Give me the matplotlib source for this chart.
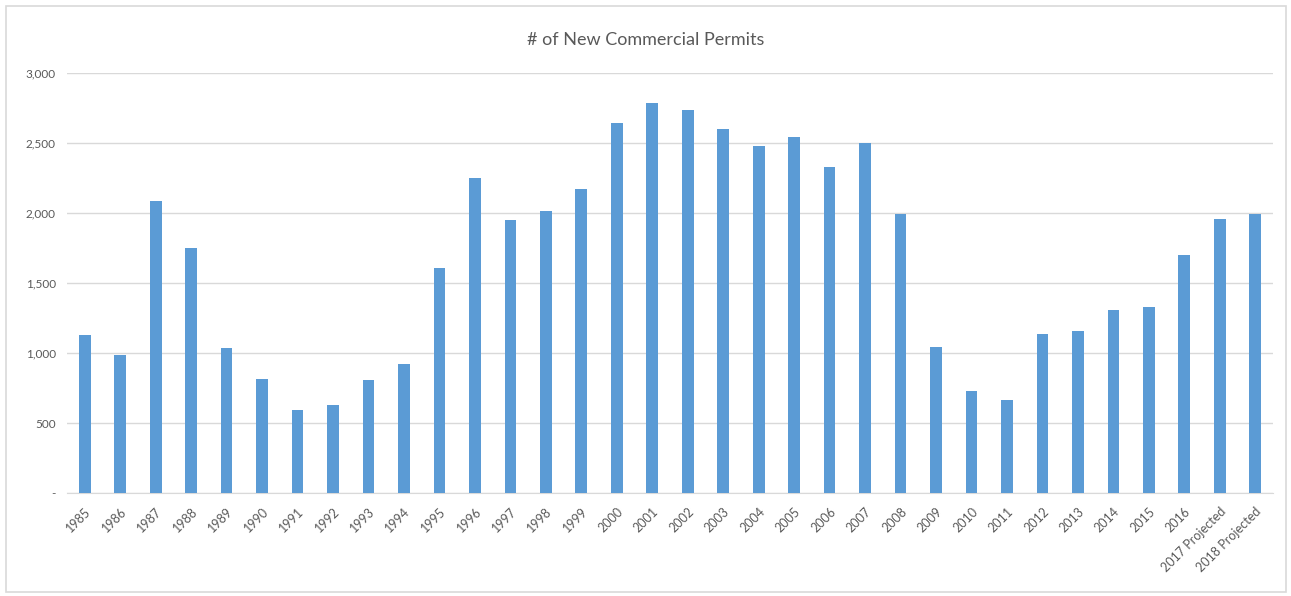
import matplotlib
matplotlib.use("Agg")
import matplotlib.pyplot as plt
from matplotlib.patches import Rectangle
from matplotlib.ticker import FuncFormatter

years = [str(y) for y in range(1985, 2017)] + ["2017 Projected", "2018 Projected"]
permits = [
    1127, 989, 2084, 1748, 1033, 816, 596, 629, 805, 924,
    1610, 2249, 1948, 2014, 2173, 2640, 2786, 2734, 2602, 2477,
    2542, 2331, 2501, 1995, 1046, 732, 667, 1133, 1154, 1306,
    1328, 1702, 1957, 1995,
]
yticks = [0, 500, 1000, 1500, 2000, 2500, 3000]

BAR = "#5B9BD5"
GRID = "#D9D9D9"
TXT = "#595959"

plt.rcParams["font.family"] = ["Lato", "DejaVu Sans"]

fig = plt.figure(figsize=(12.91, 5.96), dpi=100)
ax = fig.add_axes([67 / 1291, 1 - 493 / 596, (1273 - 67) / 1291, 420 / 596])

x = range(len(years))
ax.bar(x, permits, width=0.33, color=BAR, zorder=3)

ax.set_xlim(-0.5, len(years) - 0.5)
ax.set_ylim(0, 3000)
ax.set_yticks(yticks)
ax.yaxis.set_major_formatter(FuncFormatter(lambda v, p: "-" if v == 0 else f"{int(v):,}"))
ax.grid(axis="y", color=GRID, linewidth=1, zorder=0)

ax.set_xticks(list(x))
ax.set_xticklabels(years, rotation=45, ha="right", va="top", rotation_mode="anchor")

for s in ["top", "right", "left"]:
    ax.spines[s].set_visible(False)
ax.spines["bottom"].set_color(GRID)
ax.tick_params(axis="both", length=0, colors=TXT)
ax.tick_params(axis="y", pad=8, labelsize=8.5)
ax.tick_params(axis="x", pad=9, labelsize=9)

fig.text(0.5, 1 - 40 / 596, "# of New Commercial Permits", ha="center", va="center",
         fontsize=13, color=TXT)

# chart border
fig.patches.append(Rectangle((6 / 1291, 4 / 596), 1280 / 1291, 586 / 596,
                             transform=fig.transFigure, fill=False,
                             edgecolor=GRID, linewidth=1.2))

fig.savefig("out.png", dpi=100, facecolor="white")
